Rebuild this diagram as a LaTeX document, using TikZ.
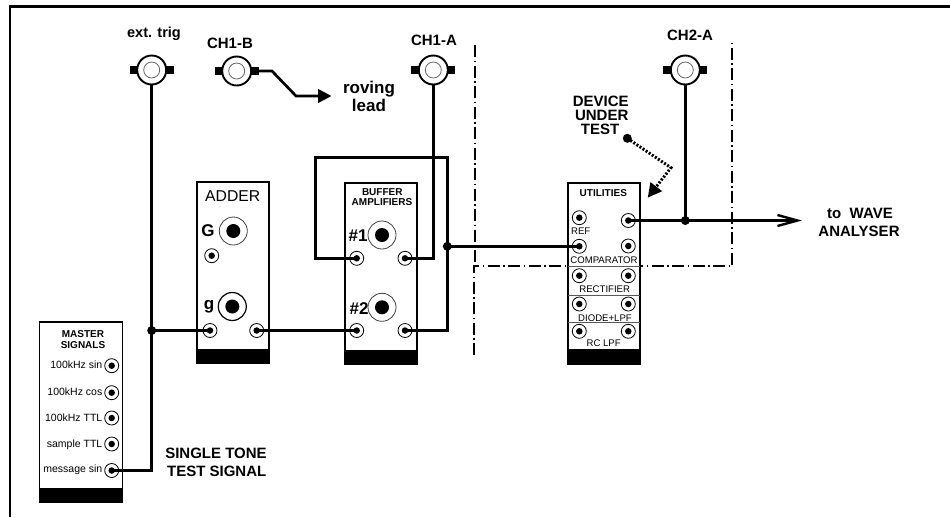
\documentclass[tikz,border=0pt]{standalone}
\usepackage{fontspec}
\setmainfont{Liberation Sans}
\usetikzlibrary{arrows.meta}
\newcommand{\fs}[1]{\fontsize{#1}{#1}\selectfont}
\tikzset{
  wire/.style={line width=2.7pt,line join=miter},
  joint/.style={circle,fill=black,inner sep=0pt,minimum size=9pt},
  jackring/.style={circle,draw=black,line width=0.8pt,fill=white,inner sep=0pt,minimum size=14pt},
  jackcore/.style={circle,fill=black,inner sep=0pt,minimum size=6.5pt},
  bigring/.style={circle,draw=black!75,line width=0.8pt,fill=white,inner sep=0pt,minimum size=28pt},
  bigringdark/.style={bigring,draw=black,line width=1.2pt},
  bigcore/.style={circle,fill=black,inner sep=0pt,minimum size=14pt},
  bncouter/.style={circle,draw=black,line width=1.9pt,fill=white,inner sep=0pt,minimum size=29pt},
  bncinner/.style={circle,draw=black!60,line width=0.8pt,fill=white,inner sep=0pt,minimum size=16pt},
  bnctab/.style={fill=black,draw=none},
  panel/.style={draw=black,line width=1.5pt,fill=white},
  foot/.style={fill=black,draw=none},
  sep/.style={draw=black!65,line width=0.8pt},
  dashdot/.style={line width=1.7pt,dash pattern=on 12pt off 3.5pt on 1.5pt off 3.5pt},
  lab/.style={inner sep=0pt,align=center,font=\fs{15}\bfseries},
  title/.style={inner sep=0pt,font=\fs{10}\bfseries},
  small/.style={inner sep=0pt,font=\fs{10.5}},
  utext/.style={inner sep=0pt,font=\fs{9.6}},
  big/.style={inner sep=0pt,font=\fs{17}\bfseries},
}
\newcommand{\jack}[3]{\node[jackring] (#1) at (#2,#3) {}; \node[jackcore] at (#2,#3) {};}
\newcommand{\bnc}[3]{%
  \fill[bnctab] (#2-22,#3-3.8) rectangle (#2+22,#3+3.8);
  \node[bncouter] (#1) at (#2,#3) {};
  \node[bncinner] at (#2,#3) {};}
\newcommand{\module}[5]{%
  \draw[panel] (#1,#2) rectangle (#3,#4);
  \fill[foot] (#1-0.75,#4) rectangle (#3+0.75,#5);}
\begin{document}
\begin{tikzpicture}[x=1pt,y=-1pt]
\useasboundingbox (0,0) rectangle (950,517);
% frame
\draw[line width=2.3pt] (10,517) -- (10,6.5) -- (950,6.5);

% dash-dot boundaries
\draw[dashdot] (475,45) -- (475,262);
\draw[dashdot] (474,355) -- (474,266) -- (732,266) -- (732,42);

% panels
\module{39.5}{322}{122.5}{489}{503}
\module{197}{182}{269}{349.5}{363.5}
\module{345}{183}{417}{350.5}{364.5}
\module{568}{183}{640}{350}{364.5}
\draw[sep] (568,266) -- (640,266);
\draw[sep] (568,295) -- (640,295);
\draw[sep] (568,322.7) -- (640,322.7);

% BNC sockets
\bnc{exttrig}{151.7}{70}
\bnc{chib}{236.7}{71}
\bnc{chia}{433.3}{70}
\bnc{chiia}{685.3}{70}

% master signals
\node[title] at (83,334) {MASTER};
\node[title] at (83,345) {SIGNALS};
\jack{ms1}{111.7}{365.7}
\jack{ms2}{111.7}{392.7}
\jack{ms3}{111.7}{418}
\jack{ms4}{111.7}{444}
\jack{ms5}{111.7}{470.5}
\node[small,anchor=east] at (102.5,365) {100kHz sin};
\node[small,anchor=east] at (102.5,392) {100kHz cos};
\node[small,anchor=east] at (102.5,418) {100kHz TTL};
\node[small,anchor=east] at (102.5,445) {sample TTL};
\node[small,anchor=east] at (102.5,470) {message sin};

% adder
\node[inner sep=0pt,font=\fs{15.7}] at (232.7,195.7) {ADDER};
\node[big] at (208,231) {G};
\node[bigring] (addG) at (233.3,231) {};
\node[bigcore] at (233.3,231) {};
\jack{addmid}{211.7}{255.7}
\node[big] at (209,307) {g};
\node[bigringdark] (addg) at (232.3,306.5) {};
\node[bigcore] at (232.3,306.5) {};
\jack{addin}{210}{330.5}
\jack{addout}{256.7}{330.5}

% buffer amplifiers
\node[title] at (382.3,192) {BUFFER};
\node[title] at (382,202) {AMPLIFIERS};
\node[big] at (358,236) {\#1};
\node[bigring] (bufI) at (382,235) {};
\node[bigcore] at (382,235) {};
\node[big] at (359,309) {\#2};
\node[bigring] (bufII) at (382,307.3) {};
\node[bigcore] at (382,307.3) {};
\jack{bufaL}{356.7}{258.3}
\jack{bufaR}{405}{258.3}
\jack{bufbL}{356.7}{330.5}
\jack{bufbR}{405}{330.5}

% utilities
\node[title] at (603.3,193.3) {UTILITIES};
\jack{utref}{579.3}{217.7}
\jack{utout}{628.3}{220.5}
\jack{utcL}{579.3}{246.3}
\jack{utcR}{628.3}{246}
\jack{utrL}{579.3}{275.7}
\jack{utrR}{628.3}{275.7}
\jack{utdL}{579.3}{304}
\jack{utdR}{628.3}{304}
\jack{utlL}{579.3}{331.3}
\jack{utlR}{628.3}{331.3}
\node[utext] at (580.7,231) {REF};
\node[utext] at (604,260) {COMPARATOR};
\node[utext] at (604.7,289.3) {RECTIFIER};
\node[utext] at (605,317.7) {DIODE+LPF};
\node[utext] at (603.7,343.3) {RC LPF};

% named junctions
\node[joint] (jtrig) at (151.7,330.5) {};
\node[joint] (jbuf) at (447.3,246.3) {};
\node[joint] (jout) at (685.3,220.5) {};
\coordinate (rov1) at (272,71);
\coordinate (rov2) at (296,96);
\coordinate (rovend) at (331.5,96);
\coordinate (outend) at (802,220.5);
\coordinate (fb1) at (315.7,258.3);
\coordinate (fb2) at (315.7,157.3);
\coordinate (fb3) at (447.3,157.3);
\coordinate (fb4) at (447.3,330.5);
\coordinate (ch1) at (433.3,258.3);
\coordinate (msc) at (151.7,470.5);

% wiring
\draw[wire] (ms5.center) -- (msc) -- (jtrig.center) -- (exttrig.south);
\draw[wire] (jtrig.center) -- (addin.center);
\draw[wire] (addout.center) -- (bufbL.center);
\draw[wire] (bufaL.center) -- (fb1) -- (fb2) -- (fb3) -- (fb4) -- (bufbR.center);
\draw[wire] (bufaR.center) -- (ch1) -- (chia.south);
\draw[wire] (jbuf.center) -- (utcL.center);
\draw[wire] (chiia.south) -- (jout.center);
\draw[wire,-{Straight Barb[length=20pt,width=11pt,line width=2.4pt]}] (utout.center) -- (outend);
\draw[wire,-{Triangle[length=13.5pt,width=13.5pt]}] (chib.east) -- (rov1) -- (rov2) -- (rovend);

% DUT pointer
\node[joint] (dutdot) at (627.3,138.3) {};
\coordinate (dutbend) at (671,167.7);
\coordinate (duttip) at (647.7,197.7);
\draw[line width=3pt,dash pattern=on 2pt off 1.7pt,-{Triangle[length=14pt,width=14pt]}] (dutdot.center) -- (dutbend) -- (duttip);

% labels
\node[lab,font=\fs{14.5}\bfseries] at (154,34) {ext. trig};
\node[lab] at (230,43) {CH1-B};
\node[lab] at (434,40) {CH1-A};
\node[lab] at (690,35) {CH2-A};
\node[lab,font=\fs{17}\bfseries] at (369,89) {roving};
\node[lab,font=\fs{17}\bfseries] at (369,105) {lead};
\node[lab] at (600.7,101.7) {DEVICE};
\node[lab] at (601.7,115) {UNDER};
\node[lab] at (600,129.3) {TEST};
\node[lab] at (216,453.3) {SINGLE TONE};
\node[lab] at (216.7,471.7) {TEST SIGNAL};
\node[lab] at (860,213.7) {to\ \ WAVE};
\node[lab] at (859,231) {ANALYSER};
\end{tikzpicture}
\end{document}
